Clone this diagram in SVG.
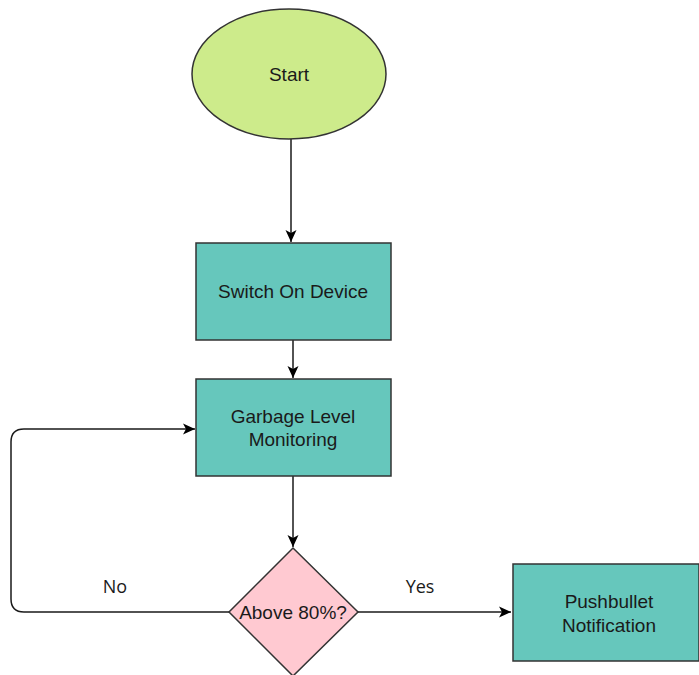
<svg xmlns="http://www.w3.org/2000/svg" width="699" height="675" viewBox="0 0 699 675">
<style>
.node{stroke:#333;stroke-width:1.5}
.lbl{font-family:"Liberation Sans",Arial,sans-serif;font-size:19px;fill:#1a1a1a;text-anchor:middle}
.el{font-family:"Open Sans","Noto Sans",sans-serif;font-size:18px;fill:#1a1a1a;text-anchor:middle}
.edge{fill:none;stroke:#1a1a1a;stroke-width:1.5}
</style>
<defs>
<marker id="arr" markerUnits="userSpaceOnUse" markerWidth="14" markerHeight="14" viewBox="0 0 14 14" refX="13" refY="7" orient="auto">
<path d="M1,1.5 L13,7 L1,12.5 L4,7 Z" fill="#000"/>
</marker>
</defs>
<rect width="699" height="675" fill="#fff"/>
<g id="connectors">
<path class="edge" d="M291,139 V242" marker-end="url(#arr)"/>
<path class="edge" d="M293,340 V378" marker-end="url(#arr)"/>
<path class="edge" d="M293,476 V547" marker-end="url(#arr)"/>
<path class="edge" d="M229,612 H24 Q11,612 11,599 V442 Q11,429 24,429 H195" marker-end="url(#arr)"/>
<path class="edge" d="M358,612 H511" marker-end="url(#arr)"/>
<text class="el" x="115" y="593">No</text>
<text class="el" x="420" y="593">Yes</text>
</g>
<g id="start">
<ellipse class="node" cx="289" cy="74" rx="97" ry="65" fill="#cdeb8b"/>
<text class="lbl" x="289" y="81">Start</text>
</g>
<g id="switch">
<rect class="node" x="196" y="243" width="195" height="97" fill="#66c7bc"/>
<text class="lbl" x="293" y="298">Switch On Device</text>
</g>
<g id="monitor">
<rect class="node" x="196" y="379" width="195" height="97" fill="#66c7bc"/>
<text class="lbl" x="293" y="423">Garbage Level</text>
<text class="lbl" x="293" y="446">Monitoring</text>
</g>
<g id="decision">
<path class="node" d="M293,548 L358,612 L293,676 L229,612 Z" fill="#ffc9d1"/>
<text class="lbl" x="293" y="619">Above 80%?</text>
</g>
<g id="notify">
<rect class="node" x="513" y="564" width="186" height="97" fill="#66c7bc"/>
<text class="lbl" x="609" y="608">Pushbullet</text>
<text class="lbl" x="609" y="632">Notification</text>
</g>
</svg>
